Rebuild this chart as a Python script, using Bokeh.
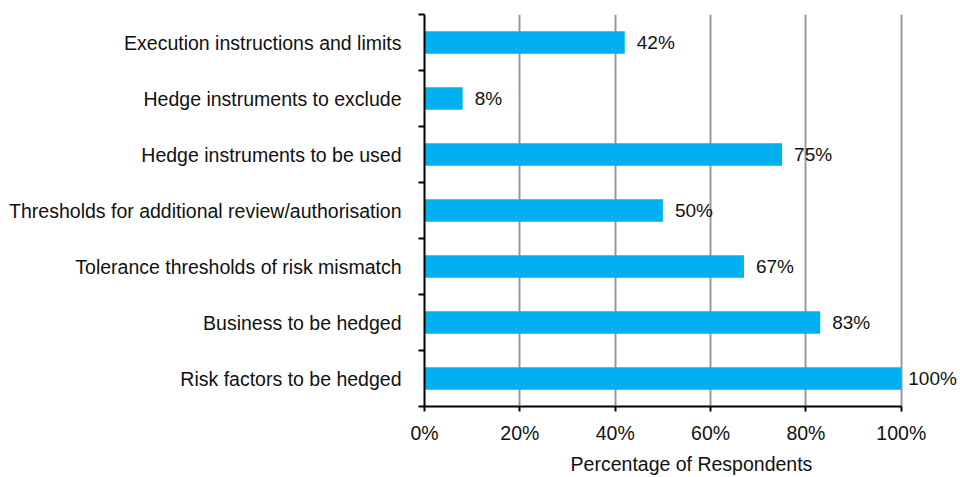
from bokeh.plotting import figure
from bokeh.models import FixedTicker, ColumnDataSource, Range1d, LabelSet
from bokeh.core.properties import value
from bokeh.embed import file_html
from bokeh.resources import INLINE

categories = [
    "Risk factors to be hedged",
    "Business to be hedged",
    "Tolerance thresholds of risk mismatch",
    "Thresholds for additional review/authorisation",
    "Hedge instruments to be used",
    "Hedge instruments to exclude",
    "Execution instructions and limits",
]
values = [100, 83, 67, 50, 75, 8, 42]
x_ticks = [0, 20, 40, 60, 80, 100]

ypos = [i + 0.5 for i in range(len(categories))]
# label offset: tighter for the bar that reaches the axis end so the text fits
offs = [7 if v >= max(x_ticks) else 12 for v in values]
src = ColumnDataSource(dict(y=ypos, v=values, lab=[f"{v}%" for v in values], off=offs))

FONT = "Liberation Sans"
FS = "19.5px"
TXT = "#111111"
p = figure(width=960, height=477, output_backend="svg", toolbar_location=None,
           x_range=Range1d(0, 112), y_range=Range1d(0, len(categories)),
           min_border_left=424, min_border_right=2, min_border_top=14, min_border_bottom=66)
p.outline_line_color = None
p.hbar(y="y", right="v", left=0, height=0.4, source=src, color="#00b0f0", line_color=None)

labels = LabelSet(x="v", y="y", text="lab", source=src, x_offset="off", y_offset=0,
                  text_baseline="middle", text_font=value(FONT), text_font_size=value("19px"),
                  text_color=TXT)
p.add_layout(labels)

# x axis
p.xaxis.ticker = FixedTicker(ticks=x_ticks)
p.xaxis.bounds = (0, 100)
p.xaxis.major_label_overrides = {t: f"{t}%" for t in x_ticks}
p.xaxis.axis_label = "Percentage of Respondents"
p.xaxis.axis_label_text_font = FONT
p.xaxis.axis_label_text_font_size = FS
p.xaxis.axis_label_text_font_style = "normal"
p.xaxis.axis_label_text_color = TXT
p.xaxis.axis_label_standoff = 6
p.xaxis.major_label_text_font = FONT
p.xaxis.major_label_text_font_size = FS
p.xaxis.major_label_text_color = TXT
p.xaxis.major_label_standoff = 10
p.xaxis.axis_line_width = 2
p.xaxis.axis_line_color = "black"
p.xaxis.major_tick_line_width = 2
p.xaxis.major_tick_in = 0
p.xaxis.major_tick_out = 5
p.xaxis.minor_tick_line_color = None

# y axis
p.yaxis.ticker = FixedTicker(ticks=ypos, minor_ticks=list(range(len(categories) + 1)))
p.yaxis.major_label_overrides = {y: c for y, c in zip(ypos, categories)}
p.yaxis.major_label_text_font = FONT
p.yaxis.major_label_text_font_size = FS
p.yaxis.major_label_text_color = TXT
p.yaxis.major_label_standoff = 17
p.yaxis.major_tick_in = 0
p.yaxis.major_tick_out = 0
p.yaxis.minor_tick_in = 0
p.yaxis.minor_tick_out = 6
p.yaxis.minor_tick_line_width = 2
p.yaxis.axis_line_width = 2
p.yaxis.axis_line_color = "black"

p.ygrid.grid_line_color = None
p.xgrid.grid_line_color = "#999999"
p.xgrid.grid_line_width = 2

open("out.html", "w").write(file_html(p, INLINE))
